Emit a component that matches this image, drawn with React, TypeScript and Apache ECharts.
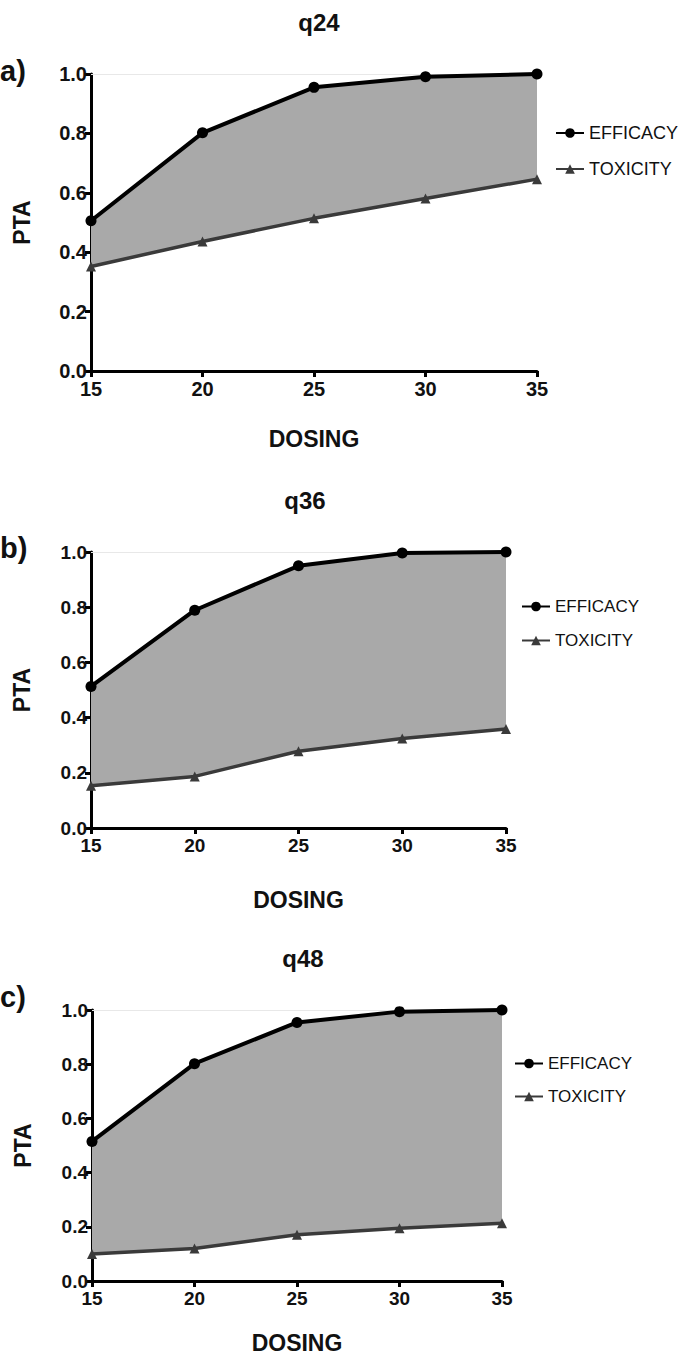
import React, { useEffect, useRef } from "react";
import * as echarts from "echarts";

const doses = ["15", "20", "25", "30", "35"];
const panelTitles = ["q24", "q36", "q48"];
const panelLetters = ["a)", "b)", "c)"];

const efficacyQ24 = [0.506, 0.802, 0.955, 0.991, 1.0];
const toxicityQ24 = [0.352, 0.436, 0.514, 0.581, 0.646];
const efficacyQ36 = [0.513, 0.789, 0.95, 0.996, 1.0];
const toxicityQ36 = [0.153, 0.187, 0.278, 0.324, 0.359];
const efficacyQ48 = [0.515, 0.802, 0.954, 0.994, 1.0];
const toxicityQ48 = [0.1, 0.12, 0.171, 0.195, 0.213];

const efficacy = [efficacyQ24, efficacyQ36, efficacyQ48];
const toxicity = [toxicityQ24, toxicityQ36, toxicityQ48];

const FONT = "'Liberation Sans', Arial, Helvetica, sans-serif";

// layout (pixels)
const grids = [
  { left: 91, top: 74, width: 446, height: 297 },
  { left: 91, top: 552, width: 415, height: 276 },
  { left: 92, top: 1010, width: 410, height: 273 },
];
const titlePos = [
  { x: 314, y: 18 },
  { x: 300, y: 496 },
  { x: 298, y: 954 },
];
const letterPos = [72, 549, 998];
const legendPos = [
  { left: 550, top: 119, gap: 18, font: 18 },
  { left: 516, top: 593, gap: 17, font: 17 },
  { left: 509, top: 1050, gap: 16, font: 17 },
];
const xNameGap = [56, 60, 50];
const tickFont = [20, 19, 19];

export default function App() {
  const ref = useRef<HTMLDivElement>(null);

  useEffect(() => {
    if (!ref.current) return;
    const chart = echarts.init(ref.current, undefined, { renderer: "svg" });

    const xAxes: any[] = [];
    const yAxes: any[] = [];
    const series: any[] = [];
    const titles: any[] = [];
    const legends: any[] = [];
    const graphics: any[] = [];

    grids.forEach((g, i) => {
      const axisLine = { show: true, lineStyle: { color: "#000", width: 3 } };
      const axisTick = { show: true, length: 6, inside: false, lineStyle: { color: "#000", width: 3 } };
      xAxes.push({
        type: "category",
        gridIndex: i,
        data: doses,
        boundaryGap: false,
        name: "DOSING",
        nameLocation: "middle",
        nameGap: xNameGap[i],
        nameTextStyle: { fontFamily: FONT, fontWeight: "bold", fontSize: 23, color: "#111" },
        axisLine,
        axisTick: { ...axisTick, alignWithLabel: true },
        splitLine: { show: false },
        axisLabel: { fontFamily: FONT, fontWeight: "bold", fontSize: tickFont[i], color: "#111", margin: 8, interval: 0 },
      });
      yAxes.push({
        type: "value",
        gridIndex: i,
        min: 0,
        max: 1,
        interval: 0.2,
        name: "PTA",
        nameLocation: "middle",
        nameRotate: 90,
        nameGap: 58,
        nameTextStyle: { fontFamily: FONT, fontWeight: "bold", fontSize: 23, color: "#111" },
        axisLine,
        axisTick,
        splitLine: { show: false },
        axisLabel: {
          fontFamily: FONT,
          fontWeight: "bold",
          fontSize: tickFont[i],
          color: "#111",
          margin: 4,
          formatter: (v: number) => v.toFixed(1),
        },
      });

      const tox = toxicity[i];
      const eff = efficacy[i];
      series.push({
        type: "line",
        name: "TOXICITY",
        xAxisIndex: i,
        yAxisIndex: i,
        stack: "band" + i,
        data: tox,
        color: "#3a3a3a",
        symbol: "triangle",
        symbolSize: 10,
        lineStyle: { width: 3.5, color: "#3a3a3a" },
        itemStyle: { color: "#3a3a3a" },
        z: 3,
      });
      series.push({
        type: "line",
        name: "fill" + i,
        xAxisIndex: i,
        yAxisIndex: i,
        stack: "band" + i,
        data: eff.map((v, k) => v - tox[k]),
        symbol: "none",
        lineStyle: { width: 0, opacity: 0 },
        areaStyle: { color: "#a9a9a9", opacity: 1 },
        z: 2,
      });
      series.push({
        type: "line",
        name: "EFFICACY",
        xAxisIndex: i,
        yAxisIndex: i,
        data: eff,
        color: "#000",
        symbol: "circle",
        symbolSize: 11,
        lineStyle: { width: 4, color: "#000" },
        itemStyle: { color: "#000" },
        z: 4,
        markLine: {
          silent: true,
          symbol: "none",
          label: { show: false },
          lineStyle: { color: "#e8e8e8", width: 1, type: "solid" },
          data: [{ yAxis: 1 }],
          z: 1,
        },
      });

      titles.push({
        text: panelTitles[i],
        left: titlePos[i].x,
        top: titlePos[i].y - 13,
        textAlign: "center",
        textStyle: { fontFamily: FONT, fontWeight: "bold", fontSize: 24, color: "#111" },
      });

      const lp = legendPos[i];
      legends.push({
        left: lp.left,
        top: lp.top,
        orient: "vertical",
        itemGap: lp.gap,
        itemWidth: 28,
        itemHeight: 12,
        data: ["EFFICACY", "TOXICITY"],
        selectedMode: false,
        textStyle: { fontFamily: FONT, fontSize: lp.font, color: "#111" },
      });

      graphics.push({
        type: "text",
        left: 0,
        top: letterPos[i] - 16,
        style: {
          text: panelLetters[i],
          font: `bold 29px ${FONT}`,
          fill: "#111",
        },
      });
    });

    chart.setOption({
      animation: false,
      backgroundColor: "#fff",
      title: titles,
      legend: legends,
      grid: grids.map((g) => ({ ...g, containLabel: false })),
      xAxis: xAxes,
      yAxis: yAxes,
      series,
      graphic: graphics,
    });

    return () => chart.dispose();
  }, []);

  return (
    <div
      ref={ref}
      style={{ position: "absolute", left: 0, top: 0, width: 680, height: 1355 }}
    />
  );
}
